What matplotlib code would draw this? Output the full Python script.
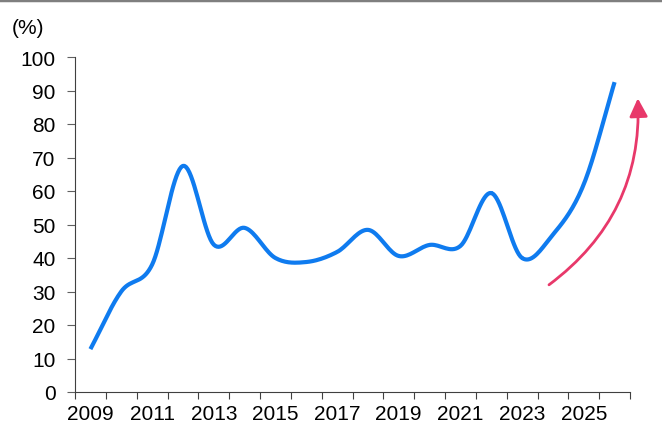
import numpy as np
import matplotlib.pyplot as plt
from matplotlib.patches import FancyArrowPatch
from matplotlib.lines import Line2D

plt.rcParams['font.family'] = ['Liberation Sans', 'DejaVu Sans']

# values
years = list(range(2009, 2027))
values = [12.8, 30, 38, 67.5, 44, 49, 40, 38.8, 41.8, 48.4,
          40.6, 43.9, 43.6, 59.4, 40, 47, 62, 92.5]
tick_years = years[::2]


def smooth(xs, ys, n=20):
    # Catmull-Rom curve through the points, like a spreadsheet "smoothed line"
    xs = np.asarray(xs, float)
    ys = np.asarray(ys, float)
    px = np.concatenate([[2 * xs[0] - xs[1]], xs, [2 * xs[-1] - xs[-2]]])
    py = np.concatenate([[2 * ys[0] - ys[1]], ys, [2 * ys[-1] - ys[-2]]])
    outx, outy = [], []
    t = np.linspace(0, 1, n)
    for i in range(1, len(px) - 2):
        for p, out in ((px, outx), (py, outy)):
            p0, p1, p2, p3 = p[i - 1], p[i], p[i + 1], p[i + 2]
            out.extend(0.5 * ((2 * p1) + (-p0 + p2) * t
                              + (2 * p0 - 5 * p1 + 4 * p2 - p3) * t ** 2
                              + (-p0 + 3 * p1 - 3 * p2 + p3) * t ** 3))
    return np.array(outx), np.array(outy)


fig = plt.figure(figsize=(6.62, 4.35), dpi=100)
ax = fig.add_axes([75 / 662, 42 / 435, 555 / 662, 335 / 435])

x = np.arange(len(years))
sx, sy = smooth(x, values)
ax.plot(sx, sy, color='#0F7BEF', lw=3.0, solid_capstyle='butt', clip_on=False)

# trend arrow
arrow = FancyArrowPatch((14.8, 31.5), (17.75, 88.5),
                        connectionstyle='arc3,rad=0.27',
                        arrowstyle='-|>,head_length=11,head_width=5.5',
                        color='#E8386A', lw=2.0, clip_on=False)
ax.add_patch(arrow)

ax.set_xlim(-0.5, len(years) - 0.5)
ax.set_ylim(0, 100)
ax.set_yticks(range(0, 101, 10))
ax.set_xticks(np.arange(len(years) + 1) - 0.5)
ax.set_xticklabels([])
ax.set_xticks([years.index(y) for y in tick_years], minor=True)
ax.set_xticklabels([str(y) for y in tick_years], minor=True)
ax.tick_params(axis='x', which='minor', length=0, labelsize=15, pad=9)
ax.tick_params(axis='x', which='major', length=5, direction='out', color='#404040')
ax.tick_params(axis='y', length=6, direction='out', labelsize=15, color='#606060', pad=8)

for s in ('top', 'right'):
    ax.spines[s].set_visible(False)
ax.spines['left'].set_color('#404040')
ax.spines['bottom'].set_color('#404040')

fig.text(12 / 662, 1 - 28 / 435, '(%)', fontsize=15, va='center', ha='left')
fig.add_artist(Line2D([0, 1], [1 - 1 / 435, 1 - 1 / 435], color='#7F7F7F', lw=2.5,
                      transform=fig.transFigure))

fig.savefig('out.png', dpi=100)
